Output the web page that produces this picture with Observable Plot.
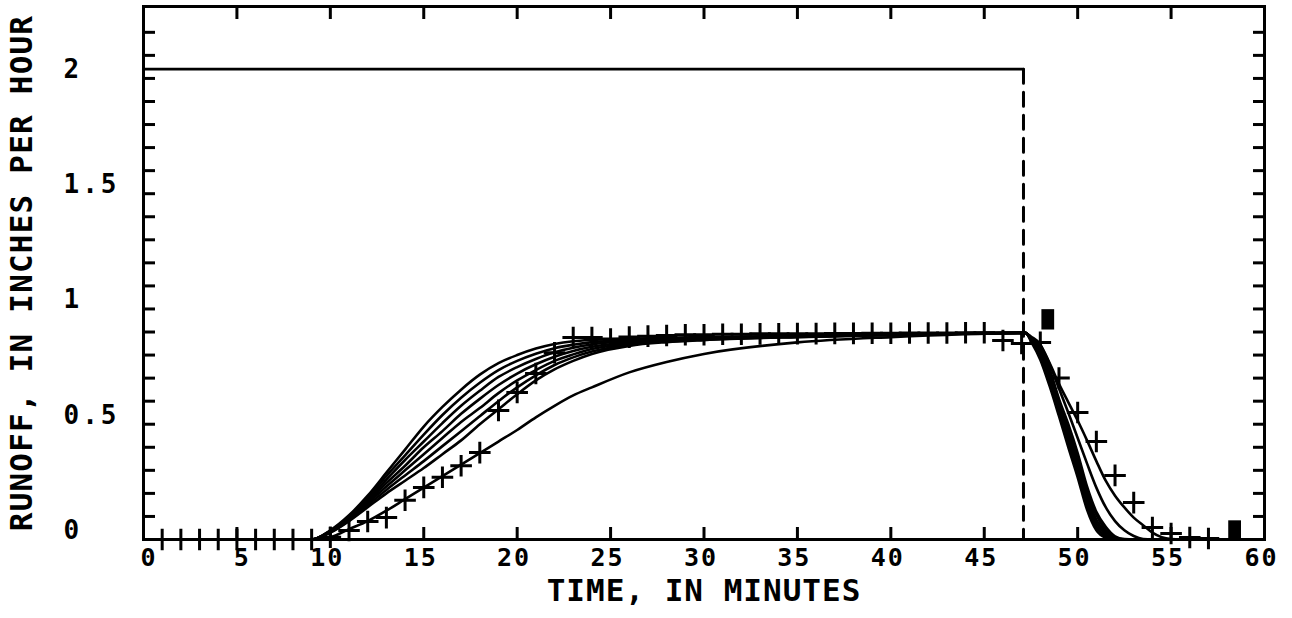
<!DOCTYPE html>
<html><head><meta charset="utf-8">
<script src="https://cdn.jsdelivr.net/npm/d3@7"></script>
<script src="https://cdn.jsdelivr.net/npm/@observablehq/plot@0.6"></script>
<style>
html,body{margin:0;padding:0;background:#fff;}
#chart{width:1292px;height:618px;}
</style></head><body><div id="chart"></div>
<script>
// ---- Data ----
const xTitle = "TIME, IN MINUTES";
const yTitle = "RUNOFF, IN INCHES PER HOUR";
const xTickValues = [0, 5, 10, 15, 20, 25, 30, 35, 40, 45, 50, 55, 60];
const yTickLabels = [0, 0.5, 1, 1.5, 2];
const yMinorTicks = [0.1,0.2,0.3,0.4,0.5,0.6,0.7,0.8,0.9,1.0,1.1,1.2,1.3,1.4,1.5,1.6,1.7,1.8,1.9,2.0,2.1,2.2];

// rainfall hyetograph
const rainTime = [0, 47.1];
const rainRate = 2.04;

// simulated hydrographs: rising limb + plateau
const riseTime = [0, 9, 10, 11, 12, 13, 14, 15, 16, 17, 18, 19, 20, 21, 22, 23, 24, 26, 28, 30, 35, 40, 47.2];
const sim1Rise = [0, 0, 0.04, 0.105, 0.19, 0.29, 0.39, 0.49, 0.575, 0.65, 0.715, 0.765, 0.80, 0.828, 0.848, 0.86, 0.866, 0.871, 0.875, 0.878, 0.884, 0.89, 0.898];
const sim2Rise = [0, 0, 0.038, 0.1, 0.182, 0.275, 0.365, 0.455, 0.54, 0.615, 0.68, 0.735, 0.775, 0.806, 0.83, 0.845, 0.856, 0.866, 0.872, 0.876, 0.883, 0.889, 0.898];
const sim3Rise = [0, 0, 0.036, 0.095, 0.174, 0.26, 0.345, 0.425, 0.505, 0.58, 0.645, 0.705, 0.748, 0.783, 0.812, 0.832, 0.846, 0.861, 0.869, 0.874, 0.882, 0.889, 0.897];
const sim4Rise = [0, 0, 0.034, 0.09, 0.166, 0.245, 0.32, 0.40, 0.47, 0.545, 0.61, 0.67, 0.72, 0.76, 0.793, 0.818, 0.836, 0.855, 0.865, 0.871, 0.881, 0.888, 0.897];
const sim5Rise = [0, 0, 0.033, 0.087, 0.158, 0.23, 0.30, 0.37, 0.44, 0.51, 0.57, 0.635, 0.69, 0.735, 0.775, 0.803, 0.826, 0.85, 0.862, 0.869, 0.88, 0.888, 0.896];
const sim6Rise = [0, 0, 0.031, 0.083, 0.149, 0.215, 0.278, 0.34, 0.405, 0.47, 0.535, 0.60, 0.66, 0.712, 0.757, 0.79, 0.815, 0.845, 0.859, 0.867, 0.879, 0.887, 0.896];
const sim7Rise = [0, 0, 0.03, 0.08, 0.14, 0.20, 0.255, 0.31, 0.37, 0.43, 0.50, 0.565, 0.63, 0.69, 0.738, 0.775, 0.805, 0.84, 0.856, 0.865, 0.878, 0.887, 0.895];
const sim8Rise = [0, 0, 0.01, 0.045, 0.08, 0.125, 0.175, 0.225, 0.275, 0.325, 0.375, 0.425, 0.475, 0.53, 0.58, 0.625, 0.66, 0.725, 0.77, 0.805, 0.855, 0.878, 0.895];

// simulated hydrographs: recession limb
const fallTime = [47.5, 48, 48.5, 49, 49.5, 50, 50.5, 51, 51.5, 52, 52.5, 53, 53.5, 54, 54.5, 55, 55.5, 60];
const sim1Fall = [0.86, 0.78, 0.665, 0.535, 0.40, 0.27, 0.13, 0.04, 0.008, 0, 0, 0, 0, 0, 0, 0, 0, 0];
const sim2Fall = [0.865, 0.79, 0.68, 0.55, 0.42, 0.29, 0.15, 0.055, 0.014, 0, 0, 0, 0, 0, 0, 0, 0, 0];
const sim3Fall = [0.87, 0.805, 0.695, 0.565, 0.44, 0.31, 0.17, 0.07, 0.022, 0.004, 0, 0, 0, 0, 0, 0, 0, 0];
const sim4Fall = [0.873, 0.818, 0.71, 0.58, 0.46, 0.33, 0.19, 0.085, 0.032, 0.007, 0, 0, 0, 0, 0, 0, 0, 0];
const sim5Fall = [0.876, 0.83, 0.725, 0.595, 0.48, 0.35, 0.21, 0.105, 0.042, 0.01, 0, 0, 0, 0, 0, 0, 0, 0];
const sim6Fall = [0.88, 0.845, 0.74, 0.61, 0.50, 0.375, 0.23, 0.12, 0.055, 0.014, 0.002, 0, 0, 0, 0, 0, 0, 0];
const sim7Fall = [0.87, 0.84, 0.76, 0.655, 0.55, 0.44, 0.33, 0.225, 0.14, 0.08, 0.04, 0.015, 0.002, 0, 0, 0, 0, 0];
const sim8Fall = [0.875, 0.845, 0.765, 0.675, 0.595, 0.516, 0.43, 0.34, 0.255, 0.19, 0.139, 0.095, 0.062, 0.03, 0.01, 0.002, 0, 0];

// observed runoff (+)
const obsTime = [1,2,3,4,5,6,7,8,9,10,11,12,13,14,15,16,17,18,19,20,21,22,23,24,25,26,27,28,29,30,31,32,33,34,35,36,37,38,39,40,41,42,43,44,45,46,47,48,49,50,51,52,53,54,55,56,57];
const obsRunoff = [0,0,0,0,0,0,0,0,0,0.01,0.039,0.078,0.095,0.17,0.226,0.27,0.32,0.377,0.56,0.638,0.72,0.81,0.876,0.876,0.87,0.878,0.882,0.885,0.888,0.888,0.89,0.89,0.892,0.892,0.893,0.893,0.894,0.894,0.895,0.895,0.896,0.896,0.896,0.897,0.897,0.863,0.85,0.855,0.70,0.551,0.425,0.278,0.16,0.052,0.026,0.009,0.004];

// filled square markers
const squareTime = [48.4, 58.4];
const squareValue = [0.955, 0.039];

// ---- Build tables ----
const riseSets = [sim1Rise, sim2Rise, sim3Rise, sim4Rise, sim5Rise, sim6Rise, sim7Rise, sim8Rise];
const fallSets = [sim1Fall, sim2Fall, sim3Fall, sim4Fall, sim5Fall, sim6Fall, sim7Fall, sim8Fall];
const simRows = [];
riseSets.forEach((vals, k) => {
  riseTime.forEach((t, i) => simRows.push({id: k, t, v: vals[i]}));
  fallTime.forEach((t, i) => simRows.push({id: k, t, v: fallSets[k][i]}));
});
const rainRows = rainTime.map(t => ({t, v: rainRate}));
const rainDrop = [{t: rainTime[1], v: rainRate}, {t: rainTime[1], v: 0}];
const obsRows = obsTime.map((t, i) => ({t, v: obsRunoff[i]}));
const squareRows = squareTime.map((t, i) => ({t, v: squareValue[i]}));

const tallRect = {draw(ctx, size) { const s = Math.sqrt(size); const w = s * 0.72, h = s * 1.15; ctx.rect(-w / 2, -h / 2, w, h); }};
const blank = () => "";

const chart = Plot.plot({
  width: 1292, height: 618,
  marginLeft: 143, marginRight: 28, marginTop: 6, marginBottom: 79,
  x: {domain: [0, 60]},
  y: {domain: [0, 2.312]},
  style: {fontFamily: "'DejaVu Sans Mono', monospace", fontWeight: "bold", color: "black", background: "white"},
  marks: [
    Plot.frame({strokeWidth: 3}),
    Plot.axisX({anchor: "bottom", ticks: xTickValues, tickSize: -12, strokeWidth: 3, tickFormat: blank, label: null}),
    Plot.axisX({anchor: "top", ticks: xTickValues.slice(1, -1), tickSize: -12, strokeWidth: 3, tickFormat: blank, label: null}),
    Plot.axisY({anchor: "left", ticks: yMinorTicks, tickSize: -12, strokeWidth: 3, tickFormat: blank, label: null}),
    Plot.axisY({anchor: "right", ticks: yMinorTicks, tickSize: -12, strokeWidth: 3, tickFormat: blank, label: null}),
    Plot.axisX({anchor: "bottom", ticks: xTickValues, tickSize: 0, tickPadding: 9, textAnchor: "end", dx: 14, fontSize: 25, fontWeight: "bold", tickFormat: d => String(d), label: null}),
    Plot.axisY({anchor: "left", ticks: yTickLabels, tickSize: 0, tickPadding: 0, textAnchor: "start", dx: -80, dy: -9, fontSize: 26, fontWeight: "bold", tickFormat: d => String(d), label: null}),
    Plot.line(rainRows, {x: "t", y: "v", stroke: "black", strokeWidth: 2.8}),
    Plot.line(rainDrop, {x: "t", y: "v", stroke: "black", strokeWidth: 3, strokeDasharray: "14,9"}),
    Plot.line(simRows, {x: "t", y: "v", z: "id", stroke: "black", strokeWidth: 2.6, curve: "monotone-x"}),
    Plot.dot(obsRows, {x: "t", y: "v", symbol: "plus", r: 7, stroke: "black", strokeWidth: 3}),
    Plot.dot(squareRows, {x: "t", y: "v", symbol: tallRect, r: 10, fill: "black", stroke: "none"}),
    Plot.text([xTitle], {frameAnchor: "bottom", dy: 61, fontSize: 31, fontWeight: "bold"}),
    Plot.text([yTitle], {frameAnchor: "left", textAnchor: "middle", rotate: -90, dx: -121, fontSize: 31, fontWeight: "bold"})
  ]
});
document.getElementById("chart").appendChild(chart);
chart.querySelectorAll('[aria-label="x-axis tick label"] text').forEach(t => t.setAttribute("letter-spacing", "2"));
chart.querySelectorAll('[aria-label="y-axis tick label"] text').forEach(t => t.setAttribute("letter-spacing", "3"));
chart.querySelectorAll('text').forEach(t => {
  if (t.textContent === xTitle) t.setAttribute("letter-spacing", "1");
  if (t.textContent === yTitle) t.setAttribute("letter-spacing", "1.2");
});
</script></body></html>
